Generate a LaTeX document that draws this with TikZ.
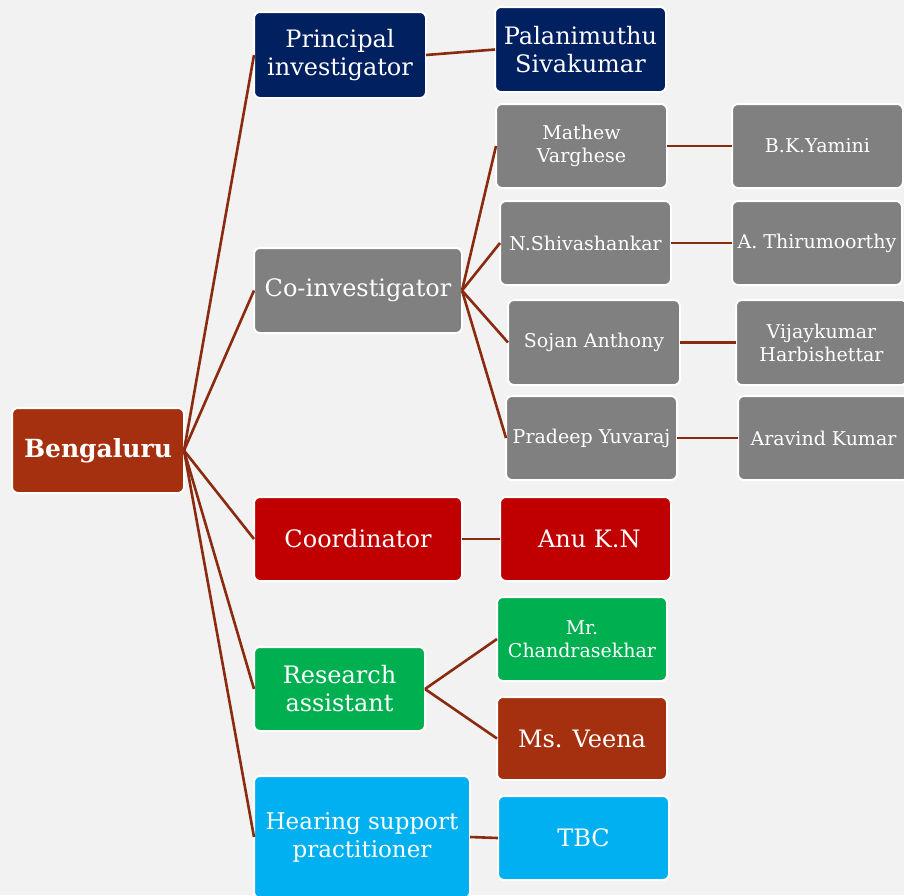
\documentclass[tikz,border=0pt]{standalone}
\usepackage{fontspec}
\setmainfont{DejaVu Serif}
\definecolor{bgc}{HTML}{F2F2F2}
\definecolor{navy}{HTML}{002060}
\definecolor{greyb}{HTML}{808080}
\definecolor{redb}{HTML}{C00000}
\definecolor{greenb}{HTML}{00B050}
\definecolor{rust}{HTML}{A5300F}
\definecolor{cyanb}{HTML}{00B0F0}
\definecolor{linkc}{HTML}{8A2A0E}
\tikzset{
  box/.style={draw=white, line width=2pt, rounded corners=6pt, text=white,
    align=center, inner sep=0pt, outer sep=0pt},
  big/.style={font=\fontsize{24}{28}\selectfont},
  small/.style={font=\fontsize{19}{23}\selectfont},
  link/.style={draw=linkc, line width=2.6pt},
}
\begin{document}
\begin{tikzpicture}[x=1pt, y=-1pt]
\fill[bgc] (0,0) rectangle (904,895);
\useasboundingbox (0,0) rectangle (904,895);

% root
\node[box, fill=rust, minimum width=172pt, minimum height=85pt,
  font=\fontsize{25}{30}\selectfont\bfseries] (beng) at (98,450.5) {Bengaluru};

% first level
\node[box, big, fill=navy, minimum width=172pt, minimum height=86pt] (pi) at (340,55) {Principal\\investigator};
\node[box, big, fill=greyb, minimum width=208pt, minimum height=85pt] (coi) at (358,290.5) {Co-investigator};
\node[box, big, fill=redb, minimum width=208pt, minimum height=84pt] (coo) at (358,539) {Coordinator};
\node[box, big, fill=greenb, minimum width=171pt, minimum height=84pt] (res) at (339.5,689) {Research\\assistant};
\node[box, fill=cyanb, minimum width=216pt, minimum height=122pt,
  font=\fontsize{23}{28}\selectfont] (hear) at (362,837) {Hearing support\\practitioner};

% second level
\node[box, big, fill=navy, minimum width=171pt, minimum height=85pt] (pal) at (580.5,49.5) {Palanimuthu\\Sivakumar};
\node[box, small, fill=greyb, minimum width=171pt, minimum height=84pt] (mat) at (581.5,146) {Mathew\\Varghese};
\node[box, small, fill=greyb, minimum width=171pt, minimum height=84pt] (shi) at (585.5,243) {N.Shivashankar};
\node[box, small, fill=greyb, minimum width=172pt, minimum height=85pt] (soj) at (594,342.5) {Sojan Anthony};
\node[box, small, fill=greyb, minimum width=171pt, minimum height=84pt] (pra) at (591.5,438) {Pradeep Yuvaraj};
\node[box, big, fill=redb, minimum width=171pt, minimum height=84pt] (anu) at (585.5,539) {\ Anu K.N};
\node[box, small, fill=greenb, minimum width=170pt, minimum height=84pt] (chan) at (582,639) {Mr.\\Chandrasekhar};
\node[box, big, fill=rust, minimum width=170pt, minimum height=83pt] (vee) at (582,738.5) {Ms. Veena};
\node[box, big, fill=cyanb, minimum width=171pt, minimum height=84pt] (tbc) at (583.5,838) {TBC};

% third level
\node[box, small, fill=greyb, minimum width=171pt, minimum height=84pt] (bky) at (817.5,146) {B.K.Yamini};
\node[box, small, fill=greyb, minimum width=170pt, minimum height=84pt] (thi) at (817,243) {A. Thirumoorthy};
\node[box, small, fill=greyb, minimum width=171pt, minimum height=85pt] (vij) at (821.5,342.5) {Vijaykumar\\Harbishettar};
\node[box, small, fill=greyb, minimum width=171pt, minimum height=84pt] (ara) at (823.5,438) {Aravind Kumar};

% connectors
\foreach \t in {pi,coi,coo,res,hear} \draw[link] (beng.east) -- (\t.west);
\draw[link] (pi.east) -- (pal.west);
\foreach \t in {mat,shi,soj,pra} \draw[link] (coi.east) -- (\t.west);
\draw[link] (mat.east) -- (bky.west);
\draw[link] (shi.east) -- (thi.west);
\draw[link] (soj.east) -- (vij.west);
\draw[link] (pra.east) -- (ara.west);
\draw[link] (coo.east) -- (anu.west);
\draw[link] (res.east) -- (chan.west);
\draw[link] (res.east) -- (vee.west);
\draw[link] (hear.east) -- (tbc.west);
\end{tikzpicture}
\end{document}
